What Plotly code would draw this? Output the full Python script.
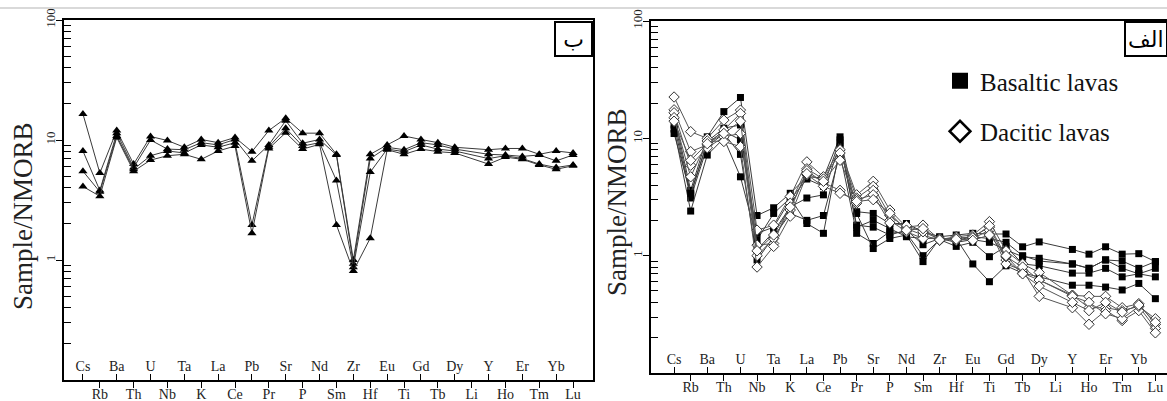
import plotly.graph_objects as go

elements = ["Cs", "Rb", "Ba", "Th", "U", "Nb", "Ta", "K", "La", "Ce", "Pb", "Pr", "Sr", "P", "Nd",
            "Sm", "Zr", "Hf", "Eu", "Ti", "Gd", "Tb", "Dy", "Li", "Y", "Ho", "Er", "Tm", "Yb", "Lu"]

# Left panel (ب): four samples, triangles
left_s1 = [16.5, 5.3, 12.0, 6.3, 10.7, 9.9, 8.7, 10.1, 9.5, 10.5, 8.0, 12.0, 15.2, 11.4, 11.4,
           7.6, 1.0, 7.6, 9.1, 10.8, 10.1, 9.5, 8.7, None, 8.3, 8.5, 8.5, 7.6, 8.1, 7.8]
left_s2 = [8.1, 3.8, 11.4, 5.9, 10.0, 8.4, 8.3, 9.5, 9.1, 10.1, 6.7, 9.1, 14.5, 9.4, 10.1,
           7.5, 0.93, 7.0, 8.7, 8.3, 9.5, 9.1, 8.4, None, 7.6, 7.5, 7.3, 7.5, 6.7, 7.5]
left_s3 = [5.5, 3.7, 10.8, 5.7, 7.4, 8.1, 7.8, 9.1, 8.7, 9.5, 1.96, 8.8, 12.5, 8.9, 9.5,
           4.6, 0.87, 5.4, 8.4, 8.0, 9.1, 8.4, 8.1, None, 7.0, 7.4, 7.0, 6.3, 5.9, 6.2]
left_s4 = [4.1, 3.4, 10.5, 5.5, 6.8, 7.4, 7.6, 6.9, 8.1, 8.9, 1.67, 8.5, 11.5, 8.4, 9.2,
           1.96, 0.81, 1.52, 8.3, 7.6, 8.4, 8.0, 7.8, None, 6.3, 7.2, 6.9, 6.2, 5.7, 6.1]

# Right panel (الف): basaltic lavas (filled squares)
bas_1 = [16.0, 3.6, 10.3, 16.9, 22.3, 2.2, 2.56, 3.4, 4.7, 4.6, 10.3, 2.37, 2.29, 1.88, 1.88,
         1.6, 1.45, 1.5, 1.55, 1.53, 1.53, 1.19, 1.31, None, 1.13, 1.03, 1.19, 1.03, 1.04, 0.89]
bas_2 = [14.5, 3.3, 9.4, 12.2, 13.0, 1.12, 1.6, 2.6, 3.1, 3.3, 9.1, 1.82, 1.75, 1.5, 1.65,
         1.24, 1.4, 1.3, 1.37, 1.3, 1.12, 0.98, 0.95, None, 0.85, 0.78, 0.92, 0.78, 0.70, 0.78]
bas_3 = [13.0, 3.1, 8.5, 11.0, 7.3, 0.92, 1.45, 2.29, 2.0, 2.2, 7.4, 1.55, 1.27, 1.6, 1.55,
         1.0, 1.37, 1.2, 1.3, 0.98, 1.2, 0.85, 0.82, None, 0.71, 0.71, 0.78, 0.66, 0.70, 0.66]
bas_4 = [12.0, 2.4, 7.2, 10.0, 4.7, 1.36, 2.29, 3.1, 1.88, 1.55, 8.5, 2.29, 1.15, 1.4, 1.5,
         0.89, 1.4, 1.4, 0.85, 0.6, 0.82, 0.71, 0.66, None, 0.56, 0.56, 0.54, 0.51, 0.58, 0.43]
bas_5 = [11.0, 3.4, 9.1, 11.5, 9.7, 1.55, 1.75, 3.0, 4.5, 3.9, 9.7, 1.75, 2.0, 1.7, 1.45,
         1.4, 1.42, 1.35, 1.45, 1.4, 1.3, 1.0, 0.9, None, 0.85, 0.78, 0.92, 0.9, 0.78, 0.89]

# Right panel: dacitic lavas (open diamonds)
dac_1 = [22.5, 11.4, 10.0, 14.3, 17.4, 1.65, 1.82, 3.2, 6.3, 4.7, 8.0, 3.3, 4.3, 2.45, 1.75,
         1.82, 1.37, 1.45, 1.5, 1.95, 1.1, 0.85, 0.72, None, 0.46, 0.45, 0.45, 0.36, 0.39, 0.26]
dac_2 = [17.5, 7.7, 8.8, 11.8, 16.3, 1.23, 1.27, 2.8, 5.5, 4.5, 7.5, 3.1, 3.9, 2.2, 1.7,
         1.5, 1.35, 1.4, 1.45, 1.75, 0.92, 0.71, 0.62, None, 0.46, 0.36, 0.36, 0.34, 0.37, 0.24]
dac_3 = [16.5, 5.9, 8.3, 10.3, 11.0, 1.0, 1.4, 2.45, 5.3, 4.2, 3.6, 2.8, 3.6, 2.0, 1.6,
         1.4, 1.4, 1.35, 1.4, 1.65, 0.85, 0.75, 0.45, None, 0.36, 0.26, 0.34, 0.28, 0.34, 0.22]
dac_4 = [15.0, 4.7, 9.5, 9.4, 8.5, 0.80, 1.2, 2.17, 4.9, 3.9, 3.4, 3.0, 3.3, 1.9, 1.8,
         1.6, 1.38, 1.42, 1.42, 1.8, 0.98, 0.8, 0.62, None, 0.45, 0.40, 0.32, 0.29, 0.37, 0.29]
dac_5 = [14.0, 6.5, 9.0, 11.0, 14.0, 1.1, 1.5, 2.6, 5.0, 4.3, 6.5, 2.9, 3.0, 2.3, 1.65,
         1.7, 1.36, 1.38, 1.35, 1.5, 1.0, 0.7, 0.55, None, 0.40, 0.34, 0.40, 0.33, 0.38, 0.27]

ytick_vals = [0.1, 1, 10, 100]
ytick_text = ["0.1", "1", "10", "100"]
y_title = "Sample/NMORB"

SERIF = "Liberation Serif, DejaVu Serif, serif"
LINE_C = "#3a3a3a"
xs = list(range(len(elements)))
odd_idx = [i for i in xs if i % 2 == 1]
even_idx = [i for i in xs if i % 2 == 0]

fig = go.Figure()

for s in [left_s1, left_s2, left_s3, left_s4]:
    fig.add_trace(go.Scatter(x=xs, y=s, mode="lines+markers", connectgaps=True,
                             line=dict(color=LINE_C, width=1),
                             marker=dict(symbol="triangle-up", size=8, color="black"),
                             showlegend=False, xaxis="x", yaxis="y"))

for s in [bas_1, bas_2, bas_3, bas_4, bas_5]:
    fig.add_trace(go.Scatter(x=xs, y=s, mode="lines+markers", connectgaps=True,
                             line=dict(color=LINE_C, width=1),
                             marker=dict(symbol="square", size=7, color="black"),
                             showlegend=False, xaxis="x2", yaxis="y2"))
for s in [dac_1, dac_2, dac_3, dac_4, dac_5]:
    fig.add_trace(go.Scatter(x=xs, y=s, mode="lines+markers", connectgaps=True,
                             line=dict(color="#555555", width=1),
                             marker=dict(symbol="diamond", size=8, color="white",
                                         line=dict(color="#333333", width=1)),
                             showlegend=False, xaxis="x2", yaxis="y2"))

# invisible traces so the overlaid (upper-label) axes are drawn
fig.add_trace(go.Scatter(x=[None], y=[None], mode="markers", showlegend=False,
                         hoverinfo="skip", xaxis="x3", yaxis="y"))
fig.add_trace(go.Scatter(x=[None], y=[None], mode="markers", showlegend=False,
                         hoverinfo="skip", xaxis="x4", yaxis="y2"))

# legend entries
fig.add_trace(go.Scatter(x=[None], y=[None], mode="markers", name="Basaltic lavas",
                         legendgroup="b",
                         marker=dict(symbol="square", size=16, color="black"),
                         xaxis="x2", yaxis="y2"))
fig.add_trace(go.Scatter(x=[None], y=[None], mode="markers", name="Dacitic lavas",
                         legendgroup="d",
                         marker=dict(symbol="diamond", size=16, color="white",
                                     line=dict(color="black", width=2.5)),
                         xaxis="x2", yaxis="y2"))

W, H = 1167, 401
def xd(a, b):
    return [a / W, min(b / W, 1.0)]
def yd(top, bottom):
    return [1 - bottom / H, 1 - top / H]

tickfont = dict(family=SERIF, size=14, color="#222")

def bottom_axis(domain, rng, anchor):
    return dict(domain=domain, range=rng, anchor=anchor, tickmode="array",
                tickvals=odd_idx, ticktext=[elements[i] for i in odd_idx],
                ticks="outside", ticklen=6, tickwidth=1, tickcolor="black",
                ticklabelstandoff=-6,
                showline=True, linewidth=2, linecolor="black", mirror=True,
                showgrid=False, zeroline=False, tickfont=tickfont, automargin=False)

def top_axis(domain, rng, anchor, over):
    return dict(domain=domain, range=rng, anchor=anchor, overlaying=over, side="bottom",
                tickmode="array", tickvals=even_idx,
                ticktext=[elements[i] for i in even_idx],
                ticks="inside", ticklen=6, tickwidth=1, tickcolor="black",
                ticklabelposition="inside", showline=False, visible=True,
                showgrid=False, zeroline=False, tickfont=tickfont, automargin=False)

def y_axis(domain, anchor):
    return dict(domain=domain, anchor=anchor, type="log", range=[-1, 2],
                tickmode="array", tickvals=ytick_vals, ticktext=ytick_text,
                tickangle=-90, ticks="outside", ticklen=6, tickwidth=1, tickcolor="black",
                ticklabelstandoff=-4,
                minor=dict(ticks="inside", ticklen=7, tickwidth=1, tickcolor="black",
                           tickvals=[v * m for v in [0.1, 1, 10] for m in range(2, 10)]),
                showline=True, linewidth=2, linecolor="black", mirror=True,
                showgrid=False, zeroline=False, automargin=False,
                tickfont=dict(family=SERIF, size=13, color="#222"))

L_dom = xd(64, 593)
R_dom = xd(651, 1167)
L_rng = [-1.12, 30.18]
R_rng = [-1.39, 29.7]

title_font = dict(family=SERIF, size=27, color="#222")

fig.update_layout(
    width=W, height=H,
    margin=dict(l=0, r=0, t=0, b=0, autoexpand=False),
    paper_bgcolor="white", plot_bgcolor="white",
    xaxis=bottom_axis(L_dom, L_rng, "y"),
    xaxis3=top_axis(L_dom, L_rng, "y", "x"),
    yaxis=y_axis(yd(20, 380), "x"),
    xaxis2=bottom_axis(R_dom, R_rng, "y2"),
    xaxis4=top_axis(R_dom, R_rng, "y2", "x2"),
    yaxis2=y_axis(yd(21, 373), "x2"),
    legend=dict(x=940 / W, y=1 - 58 / H, xanchor="left", yanchor="top",
                font=dict(family=SERIF, size=25, color="#111"),
                bgcolor="rgba(0,0,0,0)", tracegroupgap=15, itemsizing="trace"),
    showlegend=True,
    shapes=[dict(type="line", xref="paper", yref="paper", x0=0, x1=1,
                 y0=1 - 8 / H, y1=1 - 8 / H, line=dict(color="#cccccc", width=1.5))],
    annotations=[
        dict(text=y_title, xref="paper", yref="paper", x=23 / W, y=1 - 216 / H,
             xanchor="center", yanchor="middle", textangle=-90, showarrow=False,
             font=title_font),
        dict(text=y_title, xref="paper", yref="paper", x=617 / W, y=1 - 202 / H,
             xanchor="center", yanchor="middle", textangle=-90, showarrow=False,
             font=title_font),
        dict(text="ب", xref="paper", yref="paper", x=593 / W, y=1 - 21 / H,
             xanchor="right", yanchor="top", showarrow=False,
             font=dict(family="DejaVu Sans, Noto Sans", size=22, color="black"),
             bordercolor="black", borderwidth=2, borderpad=2, width=31, height=28,
             bgcolor="white"),
        dict(text="الف", xref="paper", yref="paper", x=1124 / W, y=1 - 21 / H,
             xanchor="left", yanchor="top", showarrow=False,
             font=dict(family="DejaVu Sans, Noto Sans", size=22, color="black"),
             bordercolor="black", borderwidth=2, borderpad=2, height=28,
             bgcolor="white"),
    ],
)

fig.write_html("out.html", config={"displayModeBar": False},
               post_script="document.body.style.margin='0';document.body.style.overflow='hidden';")
